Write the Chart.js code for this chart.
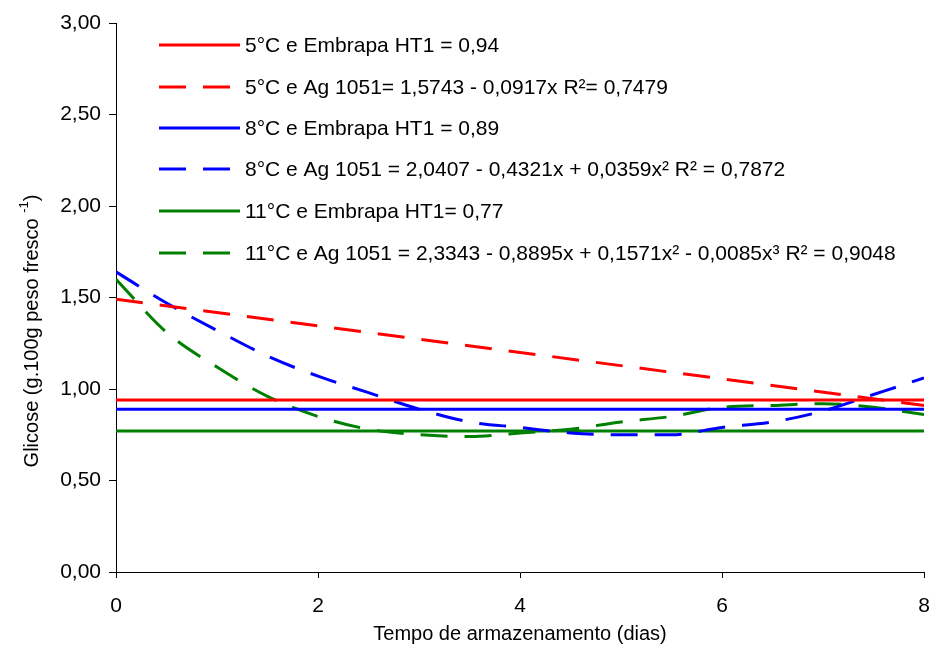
<!DOCTYPE html>
<html>
<head>
<meta charset="utf-8">
<script src="https://cdn.jsdelivr.net/npm/chart.js@4.4.0/dist/chart.umd.min.js"></script>
<style>
  body { margin: 0; background: #fff; }
  #wrap { width: 935px; height: 646px; }
</style>
</head>
<body>
<div id="wrap"><canvas id="glicoseChart" width="935" height="646"></canvas></div>
<script>
// storage days (x values) and glucose readings
const days = [0, 0.5, 1, 1.5, 2, 2.5, 3, 3.5, 4, 4.5, 5, 5.5, 6, 6.5, 7, 7.5, 8];
const ends = [0, 8];

const ht1_5 = [0.94, 0.94];
const ag_5 = [1.49, 0.91];
const ht1_8 = [0.89, 0.89];
const ag_8 = [1.64, 1.47, 1.32, 1.18, 1.07, 0.98, 0.89, 0.82, 0.79, 0.76, 0.75, 0.75, 0.79, 0.82, 0.88, 0.97, 1.06];
const ht1_11 = [0.77, 0.77];
const ag_11 = [1.60, 1.31, 1.12, 0.96, 0.85, 0.78, 0.75, 0.74, 0.76, 0.78, 0.82, 0.85, 0.90, 0.91, 0.92, 0.90, 0.86];

const yTicks = [0, 0.5, 1, 1.5, 2, 2.5, 3];
const xTicks = [0, 2, 4, 6, 8];

const seriesLabels = [
    '5°C e Embrapa HT1 = 0,94',
    '5°C e Ag 1051= 1,5743 - 0,0917x R²= 0,7479',
    '8°C e Embrapa HT1 = 0,89',
    '8°C e Ag 1051 = 2,0407 - 0,4321x + 0,0359x² R² = 0,7872',
    '11°C e Embrapa HT1= 0,77',
    '11°C e Ag 1051 = 2,3343 - 0,8895x + 0,1571x² - 0,0085x³ R² = 0,9048'
];

const FONT = 'Arial, "Liberation Sans", sans-serif';
const DASH = [27, 17];

function pts(xs, ys) {
    return xs.map((x, i) => ({ x: x, y: ys[i] }));
}

function line(label, xs, ys, color, dashed) {
    return {
        label: label,
        data: pts(xs, ys),
        borderColor: color,
        backgroundColor: color,
        borderWidth: 3,
        borderDash: dashed ? DASH : [],
        pointRadius: 0,
        cubicInterpolationMode: 'monotone',
        fill: false
    };
}

// legend drawn inside the plot, top left
const legendInside = {
    id: 'legendInside',
    afterDraw(chart) {
        const ctx = chart.ctx;
        const ys = [45, 87, 128, 169, 211, 253];
        ctx.save();
        chart.data.datasets.forEach((ds, i) => {
            const y = ys[i];
            ctx.strokeStyle = ds.borderColor;
            ctx.lineWidth = 3;
            ctx.setLineDash(ds.borderDash.length ? DASH : []);
            ctx.beginPath();
            ctx.moveTo(159, y);
            ctx.lineTo(240, y);
            ctx.stroke();
            ctx.setLineDash([]);
            ctx.fillStyle = '#000';
            ctx.font = '21px ' + FONT;
            ctx.textBaseline = 'middle';
            ctx.textAlign = 'left';
            ctx.fillText(ds.label, 245, y + 1);
        });
        ctx.restore();
    }
};

// rotated y title with superscript
const yTitle = {
    id: 'yTitle',
    afterDraw(chart) {
        const ctx = chart.ctx;
        ctx.save();
        ctx.translate(32, 331);
        ctx.rotate(-Math.PI / 2);
        ctx.fillStyle = '#000';
        ctx.textBaseline = 'middle';
        const main = 'Glicose (g.100g peso fresco ';
        const sup = '-1';
        const close = ')';
        ctx.font = '20px ' + FONT;
        const w1 = ctx.measureText(main).width;
        const w3 = ctx.measureText(close).width;
        ctx.font = '13px ' + FONT;
        const w2 = ctx.measureText(sup).width;
        let x = -(w1 + w2 + w3) / 2;
        ctx.font = '20px ' + FONT;
        ctx.fillText(main, x, 0);
        x += w1;
        ctx.font = '13px ' + FONT;
        ctx.fillText(sup, x, -8);
        x += w2;
        ctx.font = '20px ' + FONT;
        ctx.fillText(close, x, 0);
        ctx.restore();
    }
};

const ctx = document.getElementById('glicoseChart').getContext('2d');

const glicoseChart = new Chart(ctx, {
    type: 'line',
    data: {
        datasets: [
            line(seriesLabels[0], ends, ht1_5, '#ff0000', false),
            line(seriesLabels[1], ends, ag_5, '#ff0000', true),
            line(seriesLabels[2], ends, ht1_8, '#0000ff', false),
            line(seriesLabels[3], days, ag_8, '#0000ff', true),
            line(seriesLabels[4], ends, ht1_11, '#008000', false),
            line(seriesLabels[5], days, ag_11, '#008000', true)
        ]
    },
    options: {
        responsive: false,
        animation: false,
        layout: { padding: { top: 23, right: 11, left: 0, bottom: 0 } },
        plugins: {
            legend: { display: false },
            tooltip: { enabled: false }
        },
        scales: {
            x: {
                type: 'linear',
                min: 0,
                max: 8,
                afterBuildTicks: (s) => { s.ticks = xTicks.map(v => ({ value: v })); },
                afterFit: (s) => { s.height = 74; s.paddingLeft = 0; s.paddingRight = 0; },
                border: { display: true, color: '#000', width: 1 },
                grid: { display: true, drawOnChartArea: false, drawTicks: true, tickLength: 6, color: '#000' },
                ticks: {
                    color: '#000',
                    font: { size: 21, family: FONT },
                    padding: 16,
                    maxRotation: 0,
                    callback: (v) => String(v)
                },
                title: {
                    display: true,
                    text: 'Tempo de armazenamento (dias)',
                    color: '#000',
                    font: { size: 20, family: FONT },
                    padding: { top: 0, bottom: 0 }
                }
            },
            y: {
                min: 0,
                max: 3,
                afterBuildTicks: (s) => { s.ticks = yTicks.map(v => ({ value: v })); },
                afterFit: (s) => { s.width = 116; s.paddingTop = 0; s.paddingBottom = 0; },
                border: { display: true, color: '#000', width: 1 },
                grid: { display: true, drawOnChartArea: false, drawTicks: true, tickLength: 7, color: '#000' },
                ticks: {
                    color: '#000',
                    font: { size: 21, family: FONT },
                    padding: 8,
                    callback: (v) => v.toFixed(2).replace('.', ',')
                }
            }
        }
    },
    plugins: [legendInside, yTitle]
});
</script>
</body>
</html>
